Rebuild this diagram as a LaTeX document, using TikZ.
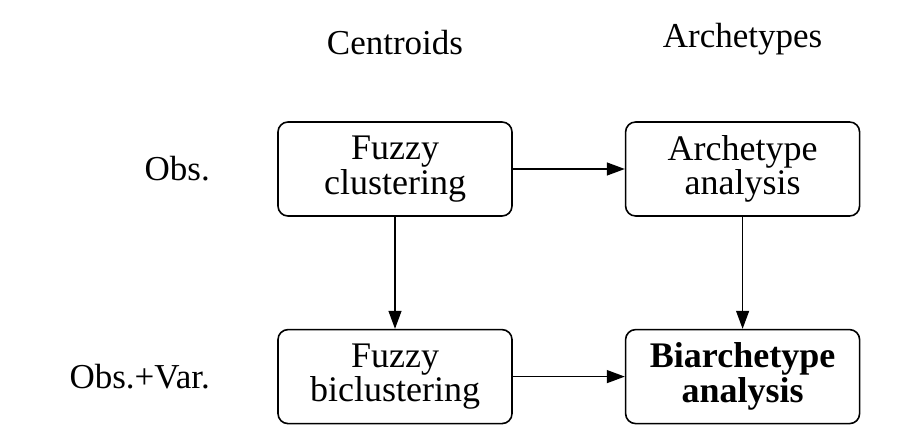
\documentclass[tikz,border=0pt]{standalone}
\usepackage{fontspec}
\setmainfont{Liberation Serif}
\usepackage{tikz}
\usetikzlibrary{positioning,arrows.meta}

\begin{document}
\begin{tikzpicture}[
  node distance=56pt and 56pt,
  method/.style={draw, line width=0.8pt, rounded corners=5pt, align=center,
    minimum width=117pt, minimum height=47pt, inner sep=2pt,
    font=\fontsize{18}{14.5}\selectfont},
  head/.style={inner sep=3pt, font=\fontsize{17.5}{21}\selectfont},
  ar/.style={line width=0.65pt, -{Triangle[length=9pt,width=6.5pt]}}]

  \useasboundingbox (0,0) rectangle (457.5pt,-216.5pt);

  \node[method] (fc) at (197.5pt,-84.5pt) {Fuzzy\\ clustering};
  \node[method, right=of fc] (aa) {Archetype\\ analysis};
  \node[method, below=of fc] (fb) {Fuzzy\\ biclustering};
  \node[method, right=of fb] (ba) {\textbf{Biarchetype}\\ \textbf{analysis}};

  % column and row headings
  \node[head, above=30pt of fc] (cent) {Centroids};
  \node[head, above=30pt of aa] (arch) {Archetypes};
  \node[head, left=30.5pt of fc] (obs) {Obs.};
  \node[head, left=30.5pt of fb] (obsvar) {Obs.+Var.};

  \draw[ar] (fc) -- (aa);
  \draw[ar] (fb) -- (ba);
  \draw[ar] (fc) -- (fb);
  \draw[ar] (aa) -- (ba);
\end{tikzpicture}
\end{document}
